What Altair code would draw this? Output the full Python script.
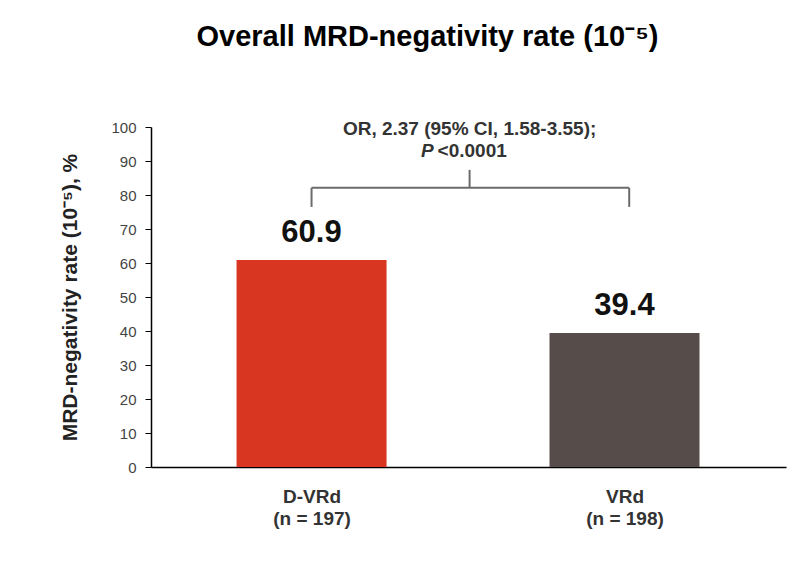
import altair as alt
import pandas as pd

# Data
categories = ["D-VRd", "VRd"]
n_labels = ["(n = 197)", "(n = 198)"]
rates = [60.9, 39.4]
bar_colors = ["#D93621", "#564C49"]
positions = [0, 1]

y_ticks = [0, 10, 20, 30, 40, 50, 60, 70, 80, 90, 100]

# bracket geometry (data units)
bracket_left = 0.0
bracket_right = 1.015
bracket_mid = 0.505
bracket_y = 82.1
bracket_drop = 76.5
bracket_tick_top = 87.4
annot_y1 = 97.6
annot_y2 = 91.3

annot_line1 = "OR, 2.37 (95% CI, 1.58-3.55);"
annot_p = "P"
annot_pval = "<0.0001"

FONT = "Liberation Sans"

df = pd.DataFrame({
    "pos": positions,
    "cat": categories,
    "rate": rates,
    "label": [f"{v:.1f}" for v in rates],
})

x_scale = alt.Scale(domain=[-0.497, 1.5], nice=False, zero=False)
y_scale = alt.Scale(domain=[0, 100], nice=False)

label_expr = (
    "datum.value == 0 ? ['" + categories[0] + "', '" + n_labels[0] + "'] : "
    "datum.value == 1 ? ['" + categories[1] + "', '" + n_labels[1] + "'] : ''"
)

x_axis = alt.Axis(values=positions, labelExpr=label_expr, title=None,
                  ticks=False, grid=False, domainColor="#000000",
                  domainWidth=1.5, labelFont=FONT, labelFontSize=19,
                  labelFontWeight="bold", labelColor="#333333",
                  labelPadding=20, labelLineHeight=22, labelOverlap=False)
y_axis = alt.Axis(values=y_ticks, title="MRD-negativity rate (10\u207b\u2075), %",
                  grid=False, domainColor="#000000", domainWidth=1.5,
                  tickColor="#000000", tickSize=6, labelFont=FONT,
                  labelFontSize=15, labelColor="#444444", labelPadding=9,
                  labelOverlap=False,
                  titleFont=FONT, titleFontSize=21, titleFontWeight="bold",
                  titleColor="#222222", titlePadding=30)


def X(field):
    return alt.X(field, scale=x_scale, axis=x_axis)


def Y(field):
    return alt.Y(field, scale=y_scale, axis=y_axis)


bars = alt.Chart(df).mark_bar(size=150).encode(
    x=X("pos:Q"),
    y=Y("rate:Q"),
    color=alt.Color("cat:N", scale=alt.Scale(domain=categories, range=bar_colors),
                    legend=None),
)

value_text = alt.Chart(df).mark_text(
    font=FONT, fontSize=31, fontWeight="bold", color="#111111",
    baseline="alphabetic", dy=-18
).encode(x=X("pos:Q"), y=Y("rate:Q"), text="label:N")

bracket_h = pd.DataFrame({"x": [bracket_left], "x2": [bracket_right], "y": [bracket_y]})
bracket_v = pd.DataFrame({
    "x": [bracket_left, bracket_right, bracket_mid],
    "y": [bracket_drop, bracket_drop, bracket_y],
    "y2": [bracket_y, bracket_y, bracket_tick_top],
})

br_color = "#6b6b6b"
hline = alt.Chart(bracket_h).mark_rule(color=br_color, strokeWidth=2).encode(
    x=X("x:Q"), x2="x2:Q", y=Y("y:Q")
)
vlines = alt.Chart(bracket_v).mark_rule(color=br_color, strokeWidth=2).encode(
    x=X("x:Q"), y=Y("y:Q"), y2="y2:Q"
)

annot_df = pd.DataFrame({"x": [bracket_mid], "y1": [annot_y1], "y2": [annot_y2],
                         "t1": [annot_line1], "tp": [annot_p], "tv": [annot_pval]})
line1 = alt.Chart(annot_df).mark_text(
    font=FONT, fontSize=19, fontWeight="bold", color="#333333", baseline="alphabetic"
).encode(x=X("x:Q"), y=Y("y1:Q"), text="t1:N")
p_text = alt.Chart(annot_df).mark_text(
    font=FONT, fontSize=19, fontWeight="bold", fontStyle="italic", color="#333333",
    baseline="alphabetic", align="right", dx=-36
).encode(x=X("x:Q"), y=Y("y2:Q"), text="tp:N")
pv_text = alt.Chart(annot_df).mark_text(
    font=FONT, fontSize=19, fontWeight="bold", color="#333333",
    baseline="alphabetic", align="left", dx=-32
).encode(x=X("x:Q"), y=Y("y2:Q"), text="tv:N")

chart = alt.layer(bars, value_text, hline, vlines, line1, p_text, pv_text).properties(
    width=635, height=340,
    background="white",
    autosize=alt.AutoSizeParams(type="none"),
    padding={"left": 143, "top": 119, "right": 6, "bottom": 107},
    title=alt.TitleParams(
        "Overall MRD-negativity rate (10\u207b\u2075)",
        font=FONT, fontSize=29, fontWeight="bold", color="#000000",
        anchor="middle", offset=68, dx=-41,
    ),
).configure_view(stroke=None)

chart.save("out.html", embed_options={"renderer": "svg", "actions": False})
